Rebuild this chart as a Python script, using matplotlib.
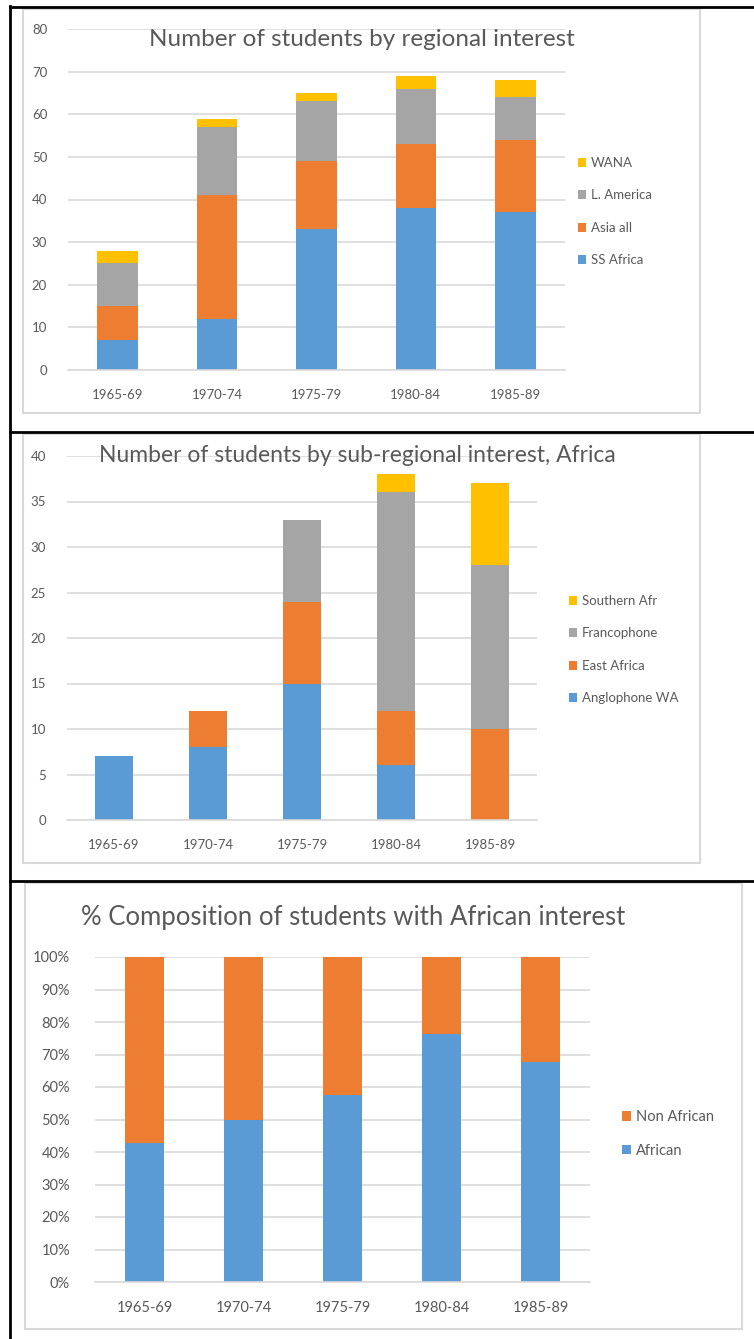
import matplotlib.pyplot as plt
from matplotlib.patches import Rectangle
from matplotlib.lines import Line2D
import numpy as np

W, H = 754, 1339

periods = ["1965-69", "1970-74", "1975-79", "1980-84", "1985-89"]

# chart 1: regional interest
ss_africa = [7, 12, 33, 38, 37]
asia_all = [8, 29, 16, 15, 17]
l_america = [10, 16, 14, 13, 10]
wana = [3, 2, 2, 3, 4]

# chart 2: sub-regional interest, Africa
anglophone_wa = [7, 8, 15, 6, 0]
east_africa = [0, 4, 9, 6, 10]
francophone = [0, 0, 9, 24, 18]
southern_afr = [0, 0, 0, 2, 9]

# chart 3: % composition
african_pct = [42.9, 50.0, 57.6, 76.3, 67.6]
non_african_pct = [100 - v for v in african_pct]

BLUE = "#5B9BD5"
ORANGE = "#ED7D31"
GRAY = "#A5A5A5"
GOLD = "#FFC000"
GRID = "#D9D9D9"
TXT = "#595959"

plt.rcParams['font.family'] = ['Lato', 'DejaVu Sans']

fig = plt.figure(figsize=(W / 100, H / 100), dpi=100)


def px_axes(x0, y0, x1, y1):
    # pixel box (top-left origin) -> axes
    return fig.add_axes([x0 / W, 1 - y1 / H, (x1 - x0) / W, (y1 - y0) / H])


def fx(x):
    return x / W


def fy(y):
    return 1 - y / H


# table lines and chart frames
for (x0, y0, x1, y1) in [(23, 9, 700, 413), (23, 434, 700, 863), (25, 883, 742, 1329)]:
    fig.add_artist(Rectangle((fx(x0), fy(y1)), fx(x1) - fx(x0), fy(y0) - fy(y1),
                             transform=fig.transFigure, fill=False,
                             edgecolor=GRID, linewidth=1.5))
for y in [7, 432, 881]:
    fig.add_artist(Line2D([fx(10), 1], [fy(y), fy(y)], transform=fig.transFigure,
                          color="black", linewidth=2))
fig.add_artist(Line2D([fx(10), fx(10)], [fy(6), 0], transform=fig.transFigure,
                      color="black", linewidth=2))


def style(ax, ymax, step, pad_y, fs):
    ax.set_xlim(-0.5, 4.5)
    ax.set_ylim(0, ymax)
    ax.set_yticks(np.arange(0, ymax + step / 2, step))
    ax.set_xticks(range(len(periods)))
    ax.set_xticklabels(periods)
    for s in ["top", "right", "left"]:
        ax.spines[s].set_visible(False)
    ax.spines["bottom"].set_color(GRID)
    ax.spines["bottom"].set_linewidth(1.2)
    ax.grid(axis="y", color=GRID, linewidth=1.2)
    ax.set_axisbelow(True)
    ax.tick_params(length=0, colors=TXT, labelsize=fs)
    ax.tick_params(axis="y", pad=pad_y)
    ax.tick_params(axis="x", pad=14)
    ax.set_facecolor("none")


x = np.arange(len(periods))

# chart 1
ax1 = px_axes(68, 29, 565, 370)
b = np.zeros(5)
h1 = []
for vals, col, lab in [(ss_africa, BLUE, "SS Africa"), (asia_all, ORANGE, "Asia all"),
                       (l_america, GRAY, "L. America"), (wana, GOLD, "WANA")]:
    h1.append(ax1.bar(x, vals, 0.41, bottom=b, color=col, label=lab))
    b += np.array(vals)
style(ax1, 80, 10, 15, 9.5)
fig.text(fx(362), fy(40), "Number of students by regional interest", ha="center",
         va="center", fontsize=17.5, color=TXT)
ax1.legend(h1[::-1], [h.get_label() for h in h1[::-1]], loc="upper left",
           bbox_to_anchor=(fx(566), fy(145)), bbox_transform=fig.transFigure,
           frameon=False, fontsize=9.5, handlelength=0.65, handleheight=0.65,
           handletextpad=0.35, labelspacing=1.55, labelcolor=TXT)

# chart 2
ax2 = px_axes(67, 456, 537, 820)
b = np.zeros(5)
h2 = []
for vals, col, lab in [(anglophone_wa, BLUE, "Anglophone WA"), (east_africa, ORANGE, "East Africa"),
                       (francophone, GRAY, "Francophone"), (southern_afr, GOLD, "Southern Afr")]:
    h2.append(ax2.bar(x, vals, 0.40, bottom=b, color=col, label=lab))
    b += np.array(vals)
style(ax2, 40, 5, 15, 9.5)
fig.text(fx(357), fy(456), "Number of students by sub-regional interest, Africa", ha="center",
         va="center", fontsize=16.5, color=TXT)
ax2.legend(h2[::-1], [h.get_label() for h in h2[::-1]], loc="upper left",
           bbox_to_anchor=(fx(557), fy(583)), bbox_transform=fig.transFigure,
           frameon=False, fontsize=9.5, handlelength=0.65, handleheight=0.65,
           handletextpad=0.35, labelspacing=1.55, labelcolor=TXT)

# chart 3
ax3 = px_axes(95, 957, 590, 1282)
h3a = ax3.bar(x, african_pct, 0.40, color=BLUE, label="African")
h3b = ax3.bar(x, non_african_pct, 0.40, bottom=african_pct, color=ORANGE, label="Non African")
style(ax3, 100, 10, 18, 10.5)
ax3.yaxis.set_major_formatter('{x:.0f}%')
fig.text(fx(353), fy(917), "% Composition of students with African interest", ha="center",
         va="center", fontsize=18.5, color=TXT)
ax3.legend([h3b, h3a], ["Non African", "African"], loc="upper left",
           bbox_to_anchor=(fx(609), fy(1097)), bbox_transform=fig.transFigure,
           frameon=False, fontsize=10.5, handlelength=0.6, handleheight=0.6,
           handletextpad=0.35, labelspacing=1.35, labelcolor=TXT)

plt.savefig("out.png", dpi=100)
